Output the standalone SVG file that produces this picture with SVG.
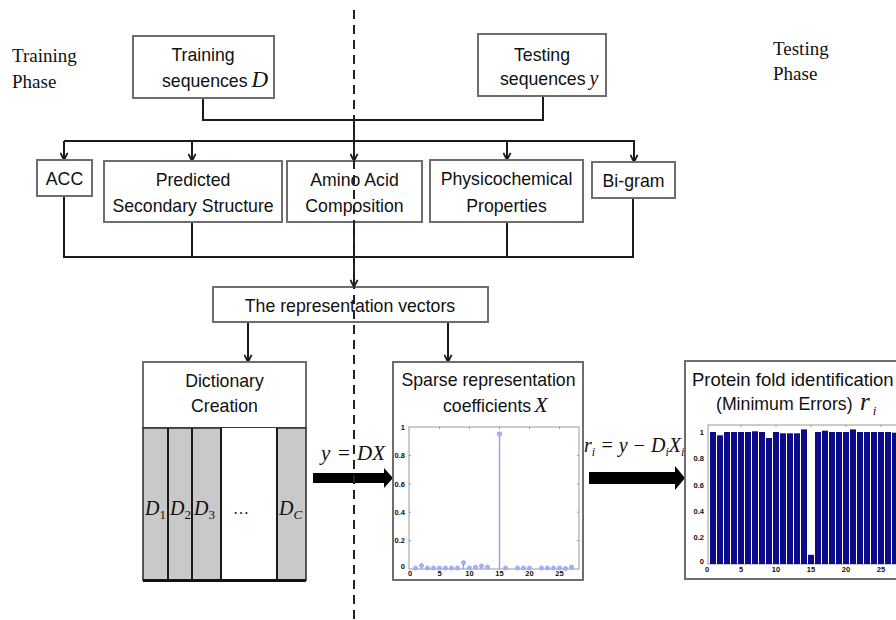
<svg xmlns="http://www.w3.org/2000/svg" width="896" height="620" viewBox="0 0 896 620">
<style>
.box{fill:#fff;stroke:#6e6e6e;stroke-width:2}
.lbl{font-family:"Liberation Sans",Arial,sans-serif;font-size:17.7px;fill:#111;text-anchor:middle}
.lbs{font-family:"Liberation Sans",Arial,sans-serif;font-size:17.7px;fill:#111}
.phase{font-family:"Liberation Serif","Times New Roman",serif;font-size:19px;fill:#111}
.m{font-family:"Liberation Serif","Times New Roman",serif;font-style:italic;fill:#111}
.mu{font-family:"Liberation Serif","Times New Roman",serif;font-style:normal;fill:#111}
.conn{stroke:#1a1a1a;stroke-width:2;fill:none}
.arr{marker-end:url(#v)}
.frame{fill:#fff;stroke:#9a9a9a;stroke-width:1}
.tk{font-family:"Liberation Sans",Arial,sans-serif;font-size:7.5px;font-weight:bold;fill:#111}
.stem{stroke:#8c9cf2;stroke-width:1.3}
.dot{fill:#aab5f6;stroke:#8c9cf2;stroke-width:0.8}
.bar{fill:#0c0c8a}
.tick{stroke:#888;stroke-width:0.8}
</style>
<defs>
<marker id="v" viewBox="0 0 10 10" refX="9" refY="5" markerWidth="9" markerHeight="9" markerUnits="userSpaceOnUse" orient="auto">
<path d="M1,1 L9,5 L1,9" fill="none" stroke="#1a1a1a" stroke-width="2"/>
</marker>
</defs>

<g id="phase-labels">
<text class="phase" x="12" y="62">Training</text>
<text class="phase" x="12" y="88">Phase</text>
<text class="phase" x="773" y="55">Testing</text>
<text class="phase" x="773" y="80">Phase</text>
</g>

<g id="connectors">
<path class="conn" d="M203,98 V120 H543 V97"/>
<path class="conn" d="M354,120 V141"/>
<path class="conn" d="M64,141 H635"/>
<path class="conn arr" d="M64,141 V160"/>
<path class="conn arr" d="M192,141 V161"/>
<path class="conn arr" d="M354,141 V161"/>
<path class="conn arr" d="M507,141 V160"/>
<path class="conn arr" d="M634,141 V162"/>
<path class="conn" d="M64,196 V257 H633 V198"/>
<path class="conn" d="M192,222 V257"/>
<path class="conn" d="M354,222 V257"/>
<path class="conn" d="M507,222 V257"/>
<path class="conn arr" d="M354,257 V287"/>
<path class="conn arr" d="M248,322 V362"/>
<path class="conn arr" d="M448,322 V362"/>
<path fill="#000" d="M313,473 H384 V468 L393,478 L384,488 V483 H313 Z"/>
<path fill="#000" d="M589,472 H675 V466 L685,478 L675,490 V484 H589 Z"/>
</g>

<g id="training-seq">
<rect class="box" x="133" y="36" width="141" height="62"/>
<text class="lbl" x="203" y="61">Training</text>
<text class="lbs" x="162" y="87">sequences<tspan class="m" font-size="23" dx="4">D</tspan></text>
</g>

<g id="testing-seq">
<rect class="box" x="478" y="34" width="128" height="62"/>
<text class="lbl" x="542" y="61">Testing</text>
<text class="lbs" x="500" y="85">sequences<tspan class="m" font-size="20" dx="4">y</tspan></text>
</g>

<g id="acc">
<rect class="box" x="37" y="160" width="55" height="36"/>
<text class="lbl" x="64.5" y="185">ACC</text>
</g>

<g id="pss">
<rect class="box" x="104" y="161" width="178" height="61"/>
<text class="lbl" x="193" y="186">Predicted</text>
<text class="lbl" x="193" y="212">Secondary Structure</text>
</g>

<g id="aac">
<rect class="box" x="287" y="161" width="135" height="61"/>
<text class="lbl" x="354.5" y="186">Amino Acid</text>
<text class="lbl" x="354.5" y="212">Composition</text>
</g>

<g id="physico">
<rect class="box" x="430" y="160" width="153" height="62"/>
<text class="lbl" x="506.5" y="185">Physicochemical</text>
<text class="lbl" x="506.5" y="212">Properties</text>
</g>

<g id="bigram">
<rect class="box" x="592" y="162" width="83" height="36"/>
<text class="lbl" x="633.5" y="187">Bi-gram</text>
</g>

<g id="rep-vectors">
<rect class="box" x="213" y="287" width="275" height="35"/>
<text class="lbl" x="350" y="312">The representation vectors</text>
</g>

<g id="dictionary">
<rect class="box" x="143" y="362" width="163" height="66"/>
<text class="lbl" x="224.5" y="387">Dictionary</text>
<text class="lbl" x="224.5" y="412">Creation</text>
<rect x="143" y="428" width="163" height="152" fill="#c9c9c9" stroke="#333" stroke-width="1.6"/>
<rect x="221" y="428" width="56" height="152" fill="#fff"/>
<path d="M168,428 V580 M192,428 V580 M221,428 V580 M277,428 V580" stroke="#1a1a1a" stroke-width="2"/>
<path d="M143,580.5 H306" stroke="#111" stroke-width="3"/>
<text class="m" font-size="20" x="145" y="515">D<tspan class="mu" font-size="13" dy="4">1</tspan></text>
<text class="m" font-size="20" x="170" y="515">D<tspan class="mu" font-size="13" dy="4">2</tspan></text>
<text class="m" font-size="20" x="194" y="515">D<tspan class="mu" font-size="13" dy="4">3</tspan></text>
<text class="mu" font-size="16" x="241" y="514" text-anchor="middle">…</text>
<text class="m" font-size="20" x="279" y="515">D<tspan font-size="13" dy="4">C</tspan></text>
</g>

<g id="eq-dx">
<text class="m" font-size="21" x="321" y="460">y</text>
<text class="mu" font-size="21" x="338" y="460">=</text>
<text class="m" font-size="21" x="357" y="460">DX</text>
</g>

<g id="sparse">
<rect class="box" x="393" y="362" width="190" height="218"/>
<text class="lbl" x="488.5" y="386">Sparse representation</text>
<text class="lbs" x="443" y="412">coefficients<tspan class="m" font-size="22" dx="3">X</tspan></text>
<rect class="frame" x="409" y="427" width="170" height="142"/>
<g class="tick">
<path d="M439.5,569 v-2 M469.5,569 v-2 M499.5,569 v-2 M529.5,569 v-2 M559.5,569 v-2 M439.5,427 v2 M469.5,427 v2 M499.5,427 v2 M529.5,427 v2 M559.5,427 v2"/>
<path d="M409,455.4 h2 M409,483.8 h2 M409,512.2 h2 M409,540.6 h2 M579,455.4 h-2 M579,483.8 h-2 M579,512.2 h-2 M579,540.6 h-2"/>
</g>
<g class="tk" text-anchor="end">
<text x="405" y="430">1</text>
<text x="405" y="458">0.8</text>
<text x="405" y="486.5">0.6</text>
<text x="405" y="515">0.4</text>
<text x="405" y="543">0.2</text>
<text x="405" y="569">0</text>
</g>
<g class="tk" text-anchor="middle">
<text x="410" y="576">0</text>
<text x="439.5" y="576">5</text>
<text x="469.5" y="576">10</text>
<text x="499.5" y="576">15</text>
<text x="529.5" y="576">20</text>
<text x="559.5" y="576">25</text>
</g>
<path class="stem" d="M421.5,569 V565.5 M463.5,569 V562.6 M481.5,569 V566.2 M499.5,569 V434"/>
<g class="dot">
<circle cx="415.5" cy="568" r="2"/>
<circle cx="421.5" cy="565.5" r="2"/>
<circle cx="427.5" cy="568" r="2"/>
<circle cx="433.5" cy="568" r="2"/>
<circle cx="439.5" cy="568" r="2"/>
<circle cx="445.5" cy="568" r="2"/>
<circle cx="451.5" cy="568" r="2"/>
<circle cx="457.5" cy="568" r="2"/>
<circle cx="463.5" cy="562.6" r="2"/>
<circle cx="469.5" cy="568" r="2"/>
<circle cx="475.5" cy="567.2" r="2"/>
<circle cx="481.5" cy="566" r="2"/>
<circle cx="487.5" cy="567.2" r="2"/>
<circle cx="499.5" cy="434" r="2.2"/>
<circle cx="505.5" cy="568" r="2"/>
<circle cx="517.5" cy="568" r="2"/>
<circle cx="523.5" cy="568" r="2"/>
<circle cx="529.5" cy="568" r="2"/>
<circle cx="541.5" cy="568" r="2"/>
<circle cx="547.5" cy="568" r="2"/>
<circle cx="553.5" cy="568" r="2"/>
<circle cx="559.5" cy="568" r="2"/>
<circle cx="565.5" cy="568.5" r="2"/>
<circle cx="571.5" cy="567" r="2"/>
</g>
</g>

<g id="eq-ri">
<text class="m" font-size="20" x="584" y="452">r<tspan font-size="12" dy="4">i</tspan><tspan dy="-4"> = y − D</tspan><tspan font-size="12" dy="4">i</tspan><tspan dy="-4">X</tspan><tspan font-size="12" dy="4">i</tspan></text>
</g>

<g id="protein-fold">
<rect class="box" x="685" y="361" width="220" height="218"/>
<text class="lbs" style="font-size:18.5px" x="692" y="386">Protein fold identification</text>
<text class="lbs" x="716" y="410">(Minimum Errors)</text>
<text class="m" font-size="25" x="860" y="410">r<tspan font-size="13" dx="3" dy="5">i</tspan></text>
<rect class="frame" x="708" y="425" width="197" height="139"/>
<g class="bar">
<rect x="710" y="432" width="6" height="132"/>
<rect x="717" y="435.3" width="6" height="128.7"/>
<rect x="724" y="432" width="6" height="132"/>
<rect x="731" y="432" width="6" height="132"/>
<rect x="738" y="432" width="6" height="132"/>
<rect x="745" y="432" width="6" height="132"/>
<rect x="752" y="431.3" width="6" height="132.7"/>
<rect x="759" y="432" width="6" height="132"/>
<rect x="766" y="438" width="6" height="126"/>
<rect x="773" y="432" width="6" height="132"/>
<rect x="780" y="433.3" width="6" height="130.7"/>
<rect x="787" y="433.3" width="6" height="130.7"/>
<rect x="794" y="433.3" width="6" height="130.7"/>
<rect x="801" y="429.4" width="6" height="134.6"/>
<rect x="808" y="554.8" width="6" height="9.2"/>
<rect x="815" y="432" width="6" height="132"/>
<rect x="822" y="430.7" width="6" height="133.3"/>
<rect x="829" y="432" width="6" height="132"/>
<rect x="836" y="432" width="6" height="132"/>
<rect x="843" y="432" width="6" height="132"/>
<rect x="850" y="429.4" width="6" height="134.6"/>
<rect x="857" y="432" width="6" height="132"/>
<rect x="864" y="432" width="6" height="132"/>
<rect x="871" y="432" width="6" height="132"/>
<rect x="878" y="432" width="6" height="132"/>
<rect x="885" y="432" width="6" height="132"/>
<rect x="892" y="432.7" width="6" height="131.3"/>
</g>
<g class="tick">
<path d="M741,425 v2 M776,425 v2 M811,425 v2 M846,425 v2 M881,425 v2"/>
</g>
<g class="tk" text-anchor="end">
<text x="704" y="435">1</text>
<text x="704" y="461">0.8</text>
<text x="704" y="487.5">0.6</text>
<text x="704" y="514">0.4</text>
<text x="704" y="540">0.2</text>
<text x="704" y="564">0</text>
</g>
<g class="tk" text-anchor="middle">
<text x="707" y="572">0</text>
<text x="741" y="572">5</text>
<text x="776" y="572">10</text>
<text x="811" y="572">15</text>
<text x="846" y="572">20</text>
<text x="881" y="572">25</text>
</g>
</g>

<g id="phase-divider">
<path d="M354,10 V620" stroke="#222" stroke-width="2" stroke-dasharray="9 6" fill="none"/>
</g>
</svg>
